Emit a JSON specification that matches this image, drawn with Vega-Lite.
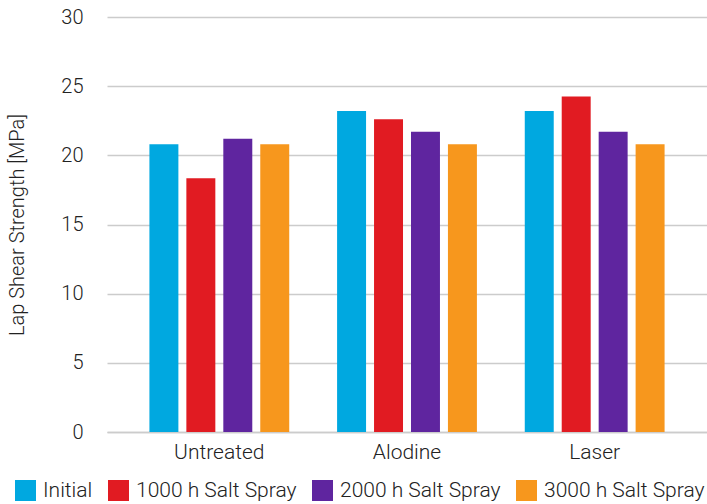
{
  "$schema": "https://vega.github.io/schema/vega-lite/v6.json",
  "width": 600,
  "height": 415,
  "autosize": "none",
  "padding": {"left": 107, "top": 17, "right": 0, "bottom": 72},
  "background": "white",
  "config": {
    "font": "Roboto",
    "view": {"stroke": null},
    "axis": {"labelFont": "Roboto", "titleFont": "Roboto", "labelColor": "#222222", "titleColor": "#222222", "labelFontWeight": 300, "titleFontWeight": 300}
  },
  "data": {
    "values": [
      {"surface": "Untreated", "condition": "Initial", "value": 20.8},
      {"surface": "Untreated", "condition": "1000 h Salt Spray", "value": 18.35},
      {"surface": "Untreated", "condition": "2000 h Salt Spray", "value": 21.2},
      {"surface": "Untreated", "condition": "3000 h Salt Spray", "value": 20.8},
      {"surface": "Alodine", "condition": "Initial", "value": 23.2},
      {"surface": "Alodine", "condition": "1000 h Salt Spray", "value": 22.6},
      {"surface": "Alodine", "condition": "2000 h Salt Spray", "value": 21.7},
      {"surface": "Alodine", "condition": "3000 h Salt Spray", "value": 20.8},
      {"surface": "Laser", "condition": "Initial", "value": 23.2},
      {"surface": "Laser", "condition": "1000 h Salt Spray", "value": 24.25},
      {"surface": "Laser", "condition": "2000 h Salt Spray", "value": 21.7},
      {"surface": "Laser", "condition": "3000 h Salt Spray", "value": 20.8}
    ]
  },
  "mark": {"type": "bar"},
  "encoding": {
    "x": {
      "field": "surface",
      "type": "nominal",
      "sort": ["Untreated", "Alodine", "Laser"],
      "scale": {"paddingInner": 0.255, "paddingOuter": 0.226},
      "axis": {
        "title": null,
        "labelAngle": 0,
        "labelFontSize": 21,
        "labelPadding": 9,
        "ticks": false,
        "domainColor": "#cccccc",
        "domainWidth": 1.5,
        "grid": false
      }
    },
    "xOffset": {
      "field": "condition",
      "type": "nominal",
      "sort": ["Initial", "1000 h Salt Spray", "2000 h Salt Spray", "3000 h Salt Spray"],
      "scale": {"paddingInner": 0.216, "paddingOuter": 0}
    },
    "y": {
      "field": "value",
      "type": "quantitative",
      "scale": {"domain": [0, 30], "nice": false},
      "axis": {
        "title": "Lap Shear Strength [MPa]",
        "titleFontSize": 20,
        "titlePadding": 33,
        "values": [0, 5, 10, 15, 20, 25, 30],
        "labelFontSize": 20,
        "labelPadding": 24,
        "ticks": false,
        "domain": false,
        "gridColor": "#cccccc",
        "gridWidth": 1.5
      }
    },
    "color": {
      "field": "condition",
      "type": "nominal",
      "sort": ["Initial", "1000 h Salt Spray", "2000 h Salt Spray", "3000 h Salt Spray"],
      "scale": {
        "domain": ["Initial", "1000 h Salt Spray", "2000 h Salt Spray", "3000 h Salt Spray"],
        "range": ["#00A8E0", "#E11B22", "#5F259F", "#F7971D"]
      },
      "legend": {
        "title": null,
        "orient": "none",
        "direction": "horizontal",
        "legendX": -92,
        "legendY": 463,
        "padding": 0,
        "symbolType": "square",
        "symbolSize": 441,
        "symbolStrokeWidth": 0,
        "symbolOpacity": 1,
        "labelFontSize": 21,
        "labelFontWeight": 300,
        "labelFont": "Roboto",
        "labelColor": "#222222",
        "labelOffset": 7,
        "columnPadding": 15,
        "labelLimit": 400
      }
    }
  }
}
